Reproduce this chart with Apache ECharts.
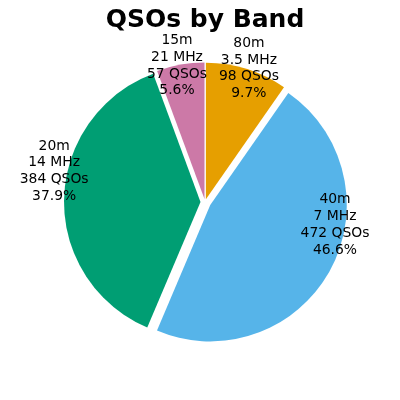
<!DOCTYPE html>
<html><head><meta charset="utf-8">
<script src="https://cdn.jsdelivr.net/npm/echarts@6/dist/echarts.min.js"></script>
<style>html,body{margin:0;padding:0;background:#fff}#c{width:400px;height:400px}</style>
</head><body><div id="c"></div>
<script>
// ---- data ----
const bands = ['80m', '40m', '20m', '15m'];
const freqs = ['3.5 MHz', '7 MHz', '14 MHz', '21 MHz'];
const qsos = [98, 472, 384, 57];
const pctLabels = ['9.7%', '46.6%', '37.9%', '5.6%'];

// ---- styles / layout ----
const colors = ['#E69F00', '#56B4E9', '#009E73', '#CC79A7'];
const CX = 205, CY = 202, R = 136.5;
const explode = [3, 6, 4.5, 3];
const labelAngle = [71.8, -10, 168.4, 101.6];
const labelDist = [1.03, 0.967, 1.128, 1.02];

const chart = echarts.init(document.getElementById('c'), null, {renderer: 'canvas'});
const series = bands.map((b, i) => ({
  type: 'pie', silent: true, animation: false,
  center: [CX, CY], radius: R, startAngle: 90, clockwise: true,
  selectedMode: 'multiple', selectedOffset: explode[i],
  avoidLabelOverlap: false,
  label: {show: false},
  labelLine: {show: false},
  emphasis: {disabled: true},
  data: bands.map((name, j) => ({
    name: name, value: qsos[j], selected: j === i,
    itemStyle: {color: j === i ? colors[j] : 'rgba(0,0,0,0)'}
  }))
}));

const labels = bands.map((b, i) => {
  const a = labelAngle[i] * Math.PI / 180, d = labelDist[i] * R;
  return {
    type: 'text', silent: true,
    x: CX + d * Math.cos(a), y: CY - d * Math.sin(a),
    style: {
      text: [bands[i], freqs[i], qsos[i] + ' QSOs', pctLabels[i]].join('\n'),
      fill: '#000', fontFamily: 'DejaVu Sans', fontSize: 13.9, lineHeight: 16.7,
      align: 'center', verticalAlign: 'middle'
    },
    z: 100
  };
});

chart.setOption({
  backgroundColor: '#fff',
  animation: false,
  title: {
    text: 'QSOs by Band', left: 200, top: 3, textAlign: 'center',
    textStyle: {fontFamily: 'DejaVu Sans', fontWeight: 'bold', fontSize: 25, color: '#000'}
  },
  series: series,
  graphic: labels
});
</script>
</body></html>
